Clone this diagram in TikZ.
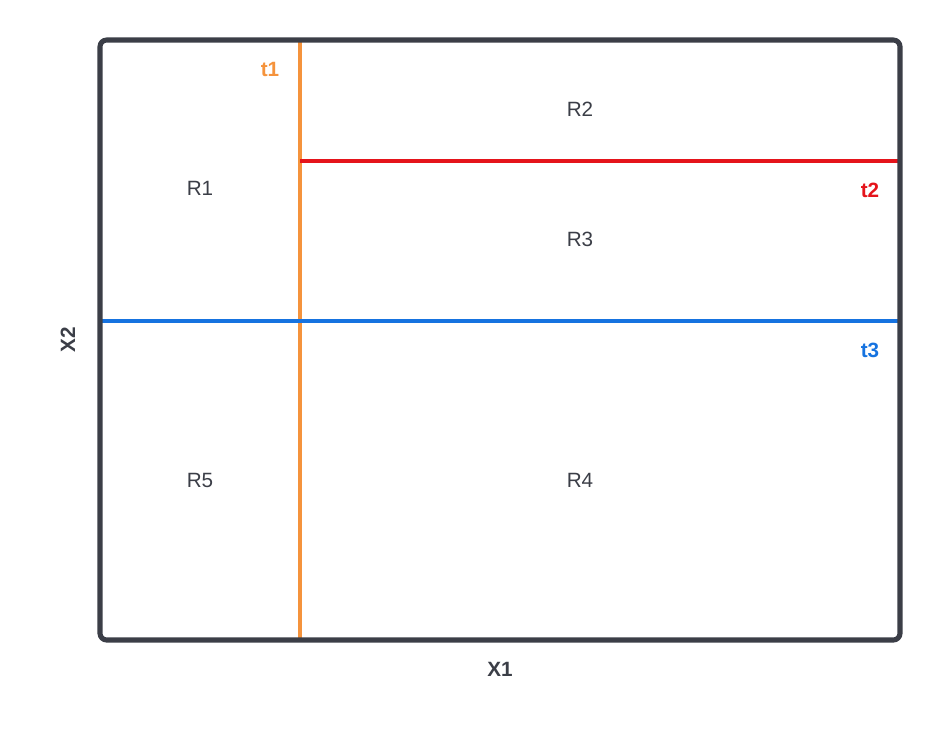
\documentclass[tikz,border=0pt]{standalone}
\usepackage{fontspec}
\setmainfont{Liberation Sans}
\definecolor{frame}{HTML}{3B3E47}
\definecolor{tone}{HTML}{F5933C}
\definecolor{ttwo}{HTML}{E5141B}
\definecolor{tthree}{HTML}{1673E0}
\tikzset{
  region/.style={text=frame,font=\fontsize{15.5}{18}\selectfont},
  axis/.style={text=frame,font=\fontsize{15.5}{18}\selectfont\bfseries},
  split/.style={line width=2.4pt},
}
\begin{document}
\begin{tikzpicture}[x=0.75pt,y=-0.75pt]
    \useasboundingbox (0,0) rectangle (940,743);
    \fill[white] (0,0) rectangle (940,743);
    % split lines
    \draw[split,tone] (300,40) -- (300,640);
    \draw[split,ttwo] (300,161) -- (900,161);
    \draw[split,tthree] (100,321) -- (900,321);
    % frame
    \draw[frame,line width=3.8pt,rounded corners=5pt] (100,40) rectangle (900,640);
    % thresholds
    \node[axis,text=tone] (t1) at (270,69) {t1};
    \node[axis,text=ttwo] (t2) at (870,190) {t2};
    \node[axis,text=tthree] (t3) at (870,350) {t3};
    % regions
    \node[region] (R1) at (200,188) {R1};
    \node[region] (R2) at (580,109) {R2};
    \node[region] (R3) at (580,239) {R3};
    \node[region] (R4) at (580,480) {R4};
    \node[region] (R5) at (200,480) {R5};
    % axes
    \node[axis] (X1) at (500,669) {X1};
    \node[axis,rotate=90] (X2) at (68,340) {X2};
\end{tikzpicture}
\end{document}
